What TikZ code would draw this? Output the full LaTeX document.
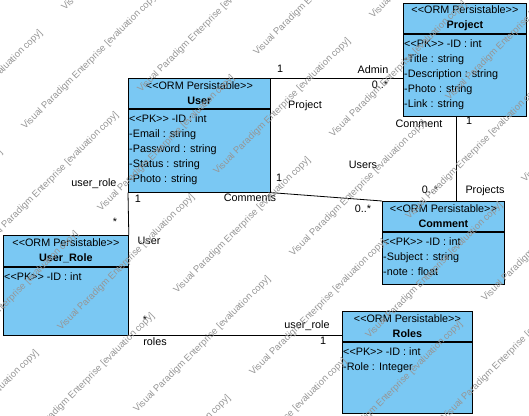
\documentclass[tikz,border=0pt]{standalone}
\usepackage{fontspec}
\newfontfamily\umlfont{Liberation Sans}
\usetikzlibrary{positioning,calc}
\definecolor{classblue}{RGB}{122,200,243}
\definecolor{wmgray}{RGB}{150,150,150}

\begin{document}
\begin{tikzpicture}[x=1pt,y=-1pt,
		every node/.style={font=\umlfont\fontsize{10.8}{15}\selectfont},
		classhead/.style={draw,line width=0.8pt,fill=classblue,anchor=north west,align=center,inner sep=0pt,minimum height=30pt},
		classbody/.style={draw,line width=0.8pt,fill=classblue,anchor=north west,inner sep=0pt},
		attrs/.style={anchor=north west,align=left,inner sep=0pt},
		role/.style={inner sep=0pt},
		assoc/.style={draw,line width=0.8pt},
		watermark/.style={text=wmgray,font=\umlfont\fontsize{9.5}{9.5}\selectfont,rotate=45,anchor=base west,inner sep=0pt}
	]

	\useasboundingbox (0,0) rectangle (529,415);

	\node[classhead,minimum width=142pt] (user-head) at (128,78) {<<ORM Persistable>>\\\textbf{User}};
	\node[classbody,minimum width=142pt,minimum height=83pt] (user-body) at (user-head.south west) {};
	\node[attrs] (user-attrs) at ([xshift=1pt,yshift=-6pt]user-body.north west) {<<PK>> -ID : int\\-Email : string\\-Password : string\\-Status : string\\-Photo : string};

	\node[classhead,minimum width=123pt] (proj-head) at (403,3) {<<ORM Persistable>>\\\textbf{Project}};
	\node[classbody,minimum width=123pt,minimum height=82pt] (proj-body) at (proj-head.south west) {};
	\node[attrs] (proj-attrs) at ([xshift=1pt,yshift=-6pt]proj-body.north west) {<<PK>> -ID : int\\-Title : string\\-Description : string\\-Photo : string\\-Link : string};

	\node[classhead,minimum width=122pt] (com-head) at (382,201) {<<ORM Persistable>>\\\textbf{Comment}};
	\node[classbody,minimum width=122pt,minimum height=52pt] (com-body) at (com-head.south west) {};
	\node[attrs] (com-attrs) at ([xshift=1pt,yshift=-6pt]com-body.north west) {<<PK>> -ID : int\\-Subject : string\\-note : float};

	\node[classhead,minimum width=130pt] (roles-head) at (342,311) {<<ORM Persistable>>\\\textbf{Roles}};
	\node[classbody,minimum width=130pt,minimum height=71pt] (roles-body) at (roles-head.south west) {};
	\node[attrs] (roles-attrs) at ([xshift=1pt,yshift=-6pt]roles-body.north west) {<<PK>> -ID : int\\-Role : Integer};

	\node[classhead,minimum width=125pt,minimum height=31pt] (ur-head) at (3,235) {<<ORM Persistable>>\\\textbf{User\_Role}};
	\node[classbody,minimum width=125pt,minimum height=68pt] (ur-body) at (ur-head.south west) {};
	\node[attrs] (ur-attrs) at ([xshift=1pt,yshift=-6pt]ur-body.north west) {<<PK>> -ID : int};

	\coordinate (pc) at ([xshift=53pt]proj-body.south west);

	\draw[assoc] (user-head.north east) -- (user-head.north east -| proj-body.west);
	\draw[assoc] (pc) -- (pc |- com-head.north);
	\draw[assoc] (user-body.south east) -- (com-head.north west);
	\draw[assoc] (user-body.south west) -- (ur-head.north east);
	\draw[assoc] (ur-body.south east) -- (ur-body.south east -| roles-head.west);

	\node[role] (m1) at (280,69) {1};
	\node[role] (admin) at (373,70) {Admin};
	\node[role] (m2) at (380,85) {0..*};
	\node[role] (lproject) at (305,106) {Project};
	\node[role] (lcomment) at (419,124) {Comment};
	\node[role] (m3) at (469,121) {1};
	\node[role] (m4) at (430,190) {0..*};
	\node[role] (lprojects) at (485,191) {Projects};
	\node[role] (lusers) at (363,165) {Users};
	\node[role] (m5) at (279,178) {1};
	\node[role] (lcomments) at (250,198) {Comments};
	\node[role] (m6) at (363,209) {0..*};
	\node[role] (luserrole) at (94,184) {user\_role};
	\node[role] (m7) at (115,222) {*};
	\node[role] (m8) at (138,199) {1};
	\node[role] (luser) at (149,241) {User};
	\node[role] (m9) at (145,320) {*};
	\node[role] (lroles) at (155,342) {roles};
	\node[role] (luserrole2) at (307,326) {user\_role};
	\node[role] (m10) at (323,341) {1};

	\begin{scope}
		\clip (0,0) rectangle (529,415);
		\foreach \i/\j in {0/-1,1/-1,2/-1,3/-1,
				-2/0,-1/0,0/0,1/0,2/0,3/0,
				-2/1,-1/1,0/1,1/1,2/1,3/1,
				-3/2,-2/2,-1/2,0/2,1/2,2/2,
				-3/3,-2/3,-1/3,0/3,1/3,
				-2/4}
		\node[watermark] (wm\i\j) at ({137+116*\i+40*\j},{413-37*\i-119*\j}) {Visual Paradigm Enterprise [evaluation copy]};
	\end{scope}

\end{tikzpicture}
\end{document}
